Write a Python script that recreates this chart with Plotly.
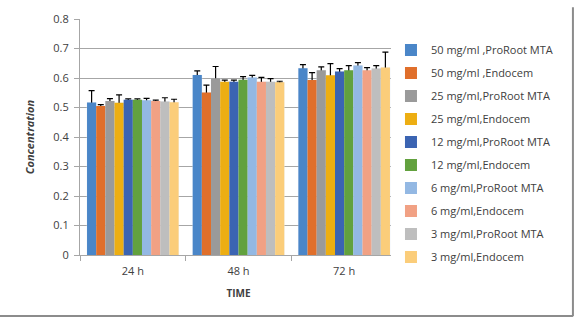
import plotly.graph_objects as go

categories = ["24 h", "48 h", "72 h"]
series_names = [
    "50 mg/ml ,ProRoot MTA", "50 mg/ml ,Endocem",
    "25 mg/ml,ProRoot MTA", "25 mg/ml,Endocem",
    "12 mg/ml,ProRoot MTA", "12 mg/ml,Endocem",
    "6 mg/ml,ProRoot MTA", "6 mg/ml,Endocem",
    "3 mg/ml,ProRoot MTA", "3 mg/ml,Endocem",
]
values = [
    [0.517, 0.610, 0.633],
    [0.505, 0.551, 0.593],
    [0.522, 0.599, 0.626],
    [0.516, 0.587, 0.609],
    [0.526, 0.587, 0.622],
    [0.526, 0.594, 0.626],
    [0.525, 0.602, 0.642],
    [0.522, 0.587, 0.626],
    [0.520, 0.587, 0.632],
    [0.518, 0.586, 0.636],
]
errors = [
    [0.040, 0.014, 0.012],
    [0.005, 0.025, 0.025],
    [0.008, 0.040, 0.012],
    [0.027, 0.006, 0.040],
    [0.003, 0.006, 0.010],
    [0.003, 0.011, 0.016],
    [0.006, 0.007, 0.010],
    [0.003, 0.015, 0.009],
    [0.013, 0.011, 0.010],
    [0.010, 0.003, 0.052],
]
colors = ["#4A86C8", "#E06F2B", "#9A9A9A", "#EDAE12", "#3B64B2",
          "#62A13E", "#93B8E3", "#F1A184", "#BEBEBE", "#FBCD7A"]

fig = go.Figure()
# error whiskers first (drawn underneath, lower half hidden by bars)
for i, name in enumerate(series_names):
    fig.add_trace(go.Bar(
        x=categories, y=values[i], offsetgroup=str(i), showlegend=False,
        marker=dict(color="rgba(0,0,0,0)"), hoverinfo="skip",
        error_y=dict(type="data", array=errors[i], symmetric=True,
                     color="black", thickness=1.2, width=3),
    ))
for i, name in enumerate(series_names):
    fig.add_trace(go.Bar(
        x=categories, y=values[i], name=name, offsetgroup=str(i),
        legendgroup=str(i), marker=dict(color=colors[i], line=dict(width=0)),
    ))

fig.update_layout(
    width=575, height=324,
    margin=dict(l=80, r=178, t=11, b=69),
    paper_bgcolor="white", plot_bgcolor="white",
    barmode="group", bargap=0.133, bargroupgap=0,
    font=dict(family="Open Sans", size=11, color="#404040"),
    legend=dict(x=0.981, xanchor="left", y=0.93, yanchor="top",
                font=dict(size=11, color="#404040"), tracegroupgap=4,
                traceorder="grouped", itemclick=False),
    xaxis=dict(
        showline=True, linecolor="#A6A6A6", linewidth=1,
        ticks="outside", tickson="boundaries", ticklen=5, tickcolor="#A6A6A6",
        tickfont=dict(size=11, color="#404040"), ticklabelstandoff=6,
        title=dict(text="<b>TIME</b>", font=dict(size=10, color="#404040"), standoff=12),
    ),
    yaxis=dict(
        range=[0, 0.8], dtick=0.1, showgrid=True, gridcolor="#A6A6A6", gridwidth=1,
        showline=True, linecolor="#A6A6A6", linewidth=1,
        ticks="outside", ticklen=5, tickcolor="#A6A6A6", ticklabelstandoff=3,
        tickfont=dict(size=11, color="#404040"), zeroline=False,
    ),
    annotations=[dict(
        text="<i><b>Concentration</b></i>", textangle=-90,
        xref="paper", yref="paper", x=-0.19, y=0.5, showarrow=False,
        font=dict(size=11, color="#404040"),
    )],
    shapes=[
        dict(type="line", xref="paper", yref="paper", x0=1.555, x1=1.555,
             y0=-0.26, y1=1.05, line=dict(color="#8C8C8C", width=2)),
        dict(type="line", xref="paper", yref="paper", x0=-0.26, x1=1.555,
             y0=-0.258, y1=-0.258, line=dict(color="#8C8C8C", width=2)),
    ],
)

fig.write_html("out.html")
